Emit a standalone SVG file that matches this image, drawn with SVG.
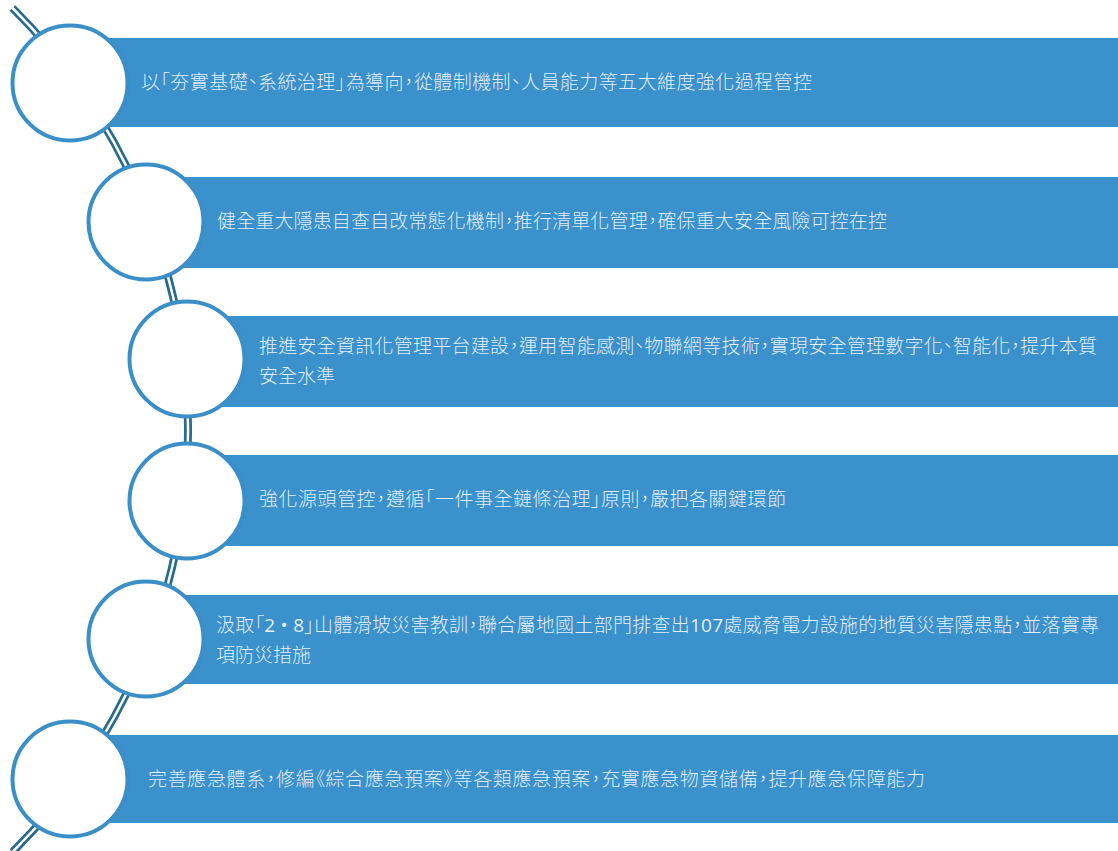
<svg xmlns="http://www.w3.org/2000/svg" width="1118" height="851" viewBox="0 0 1118 851" xml:lang="zh-Hant">
<style>
.bar{fill:#3b91cb}
.ring{fill:#ffffff;stroke:#3b8fc9;stroke-width:4}
.t{font-family:"Noto Sans CJK TC","Noto Sans CJK SC",sans-serif;font-size:19px;font-weight:300;fill:#eef5fb;fill-opacity:0.95;font-feature-settings:"palt"}
.lat{font-family:"Open Sans","Noto Sans",sans-serif;font-weight:400}
.wire-out{fill:none;stroke:#276a8f;stroke-width:8}
.wire-in{fill:none;stroke:#ffffff;stroke-width:2.5}
</style>
<rect width="1118" height="851" fill="#ffffff"/>
<g id="connectors">
<path class="wire-out" d="M 12.5 8 A 595 595 0 0 1 12.5 852"/>
<path class="wire-in" d="M 12.5 8 A 595 595 0 0 1 12.5 852"/>
</g>
<g id="node1">
<rect class="bar" x="70" y="38" width="1048" height="89"/>
<circle class="ring" cx="70" cy="83" r="57.5"/>
<text class="t" x="141" y="88.5" textLength="671">以「夯實基礎、系統治理」為導向，從體制機制、人員能力等五大維度強化過程管控</text>
</g>
<g id="node2">
<rect class="bar" x="146" y="177" width="972" height="91"/>
<circle class="ring" cx="146" cy="222" r="57.5"/>
<text class="t" x="217" y="228" textLength="670">健全重大隱患自查自改常態化機制，推行清單化管理，確保重大安全風險可控在控</text>
</g>
<g id="node3">
<rect class="bar" x="187" y="316" width="931" height="91"/>
<circle class="ring" cx="187" cy="359" r="57.5"/>
<text class="t" x="259" y="353" textLength="838">推進安全資訊化管理平台建設，運用智能感測、物聯網等技術，實現安全管理數字化、智能化，提升本質</text>
<text class="t" x="259" y="383">安全水準</text>
</g>
<g id="node4">
<rect class="bar" x="187" y="455" width="931" height="91"/>
<circle class="ring" cx="187" cy="501" r="57.5"/>
<text class="t" x="259" y="506" textLength="527">強化源頭管控，遵循「一件事全鏈條治理」原則，嚴把各關鍵環節</text>
</g>
<g id="node5">
<rect class="bar" x="146" y="595" width="972" height="89"/>
<circle class="ring" cx="146" cy="639" r="57.5"/>
<text class="t" x="216" y="632" textLength="883">汲取「<tspan class="lat">2 • 8</tspan>」山體滑坡災害教訓，聯合屬地國土部門排查出<tspan class="lat">107</tspan>處威脅電力設施的地質災害隱患點，並落實專</text>
<text class="t" x="216" y="661.5">項防災措施</text>
</g>
<g id="node6">
<rect class="bar" x="70" y="735" width="1048" height="88"/>
<circle class="ring" cx="70" cy="779" r="57.5"/>
<text class="t" x="148" y="785.5" textLength="777">完善應急體系，修編《綜合應急預案》等各類應急預案，充實應急物資儲備，提升應急保障能力</text>
</g>
</svg>
